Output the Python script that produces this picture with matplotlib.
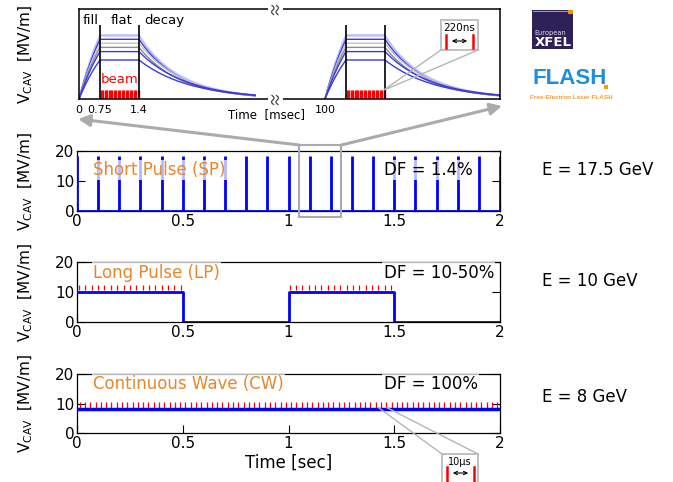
import numpy as np
import matplotlib
matplotlib.use('Agg')
import matplotlib.pyplot as plt
from matplotlib.patches import Rectangle, FancyArrowPatch, ConnectionPatch
from matplotlib.lines import Line2D

W, H = 673, 482
fig = plt.figure(figsize=(W / 100, H / 100), dpi=100)


def fpx(x, y):
    return (x / W, 1 - y / H)


def ax_rect(x0, y0, x1, y1):
    return [x0 / W, 1 - y1 / H, (x1 - x0) / W, (y1 - y0) / H]

# ---------------- data ----------------
# top schematic (RF pulse: fill / flat / decay)
pulse_starts_ms = [0.0, 100.0]
fill_end_ms = 0.75
flat_end_ms = 1.4
decay_len_ms = 3.6
pulse_levels = [21.3, 21.0, 19.9, 18.6, 17.2, 15.8, 13.0]
pulse_colors = ['#a8a8ff', '#c0c0ff', '#3a3ae0', '#c4c4c4', '#8c8c8c', '#3a3ae0', '#3a3ae0']
decay_taus = [1.2, 1.3, 1.25, 1.35, 1.3, 1.45, 1.55]
beam_level = 3.0
bunch_spacing_ms = 0.022
top_ticks = [0, 0.75, 1.4, 100]
top_ticklabels = ['0', '0.75', '1.4', '100']

time_ticks = [0, 0.5, 1, 1.5, 2]
time_ticklabels = ['0', '0.5', '1', '1.5', '2']
v_ticks = [0, 10, 20]

# short pulse
sp_pulse_times = [0.0, 0.1, 0.2, 0.3, 0.4, 0.5, 0.6, 0.7, 0.8, 0.9, 1.0,
                  1.1, 1.2, 1.3, 1.4, 1.5, 1.6, 1.7, 1.8, 1.9, 2.0]
sp_gradient = 18.3

# long pulse
lp_t = [0.0, 0.5, 0.5, 1.0, 1.0, 1.5, 1.5, 2.0]
lp_v = [10, 10, 0, 0, 10, 10, 0, 0]
lp_pulse_windows = [(0.01, 0.49), (1.005, 1.495)]
lp_bunch_spacing = 0.03

# continuous wave
cw_gradient = 8
cw_first_bunch = 0.0125
cw_bunch_spacing = 0.025
cw_n_bunches = 80

modes = ['Short Pulse (SP)', 'Long Pulse (LP)', 'Continuous Wave (CW)']
duty = ['DF = 1.4%', 'DF = 10-50%', 'DF = 100%']
energies = ['E = 17.5 GeV', 'E = 10 GeV', 'E = 8 GeV']

BLUE = '#0000ff'
ORANGE = '#e8862a'
GREY = '#ababab'
ylab = r'$\mathregular{V_{CAV}}$  [MV/m]'

# ---------------- top schematic axes ----------------
T_KNOTS = [0.0, 0.75, 1.4, 5.0, 100.0, 100.75, 101.4, 105.0]
P_KNOTS = [79, 100, 139, 255, 325, 346, 385, 500]


def fwd(t):
    return np.interp(t, T_KNOTS, P_KNOTS)


def inv(p):
    return np.interp(p, P_KNOTS, T_KNOTS)

axt = fig.add_axes(ax_rect(79, 9, 500, 99))
axt.set_xscale('function', functions=(fwd, inv))
axt.set_xlim(0, 105)
axt.set_ylim(0, 30)
for t0 in pulse_starts_ms:
    for lev, col, tau in zip(pulse_levels, pulse_colors, decay_taus):
        tf = np.linspace(0, fill_end_ms, 40)
        vf = lev * (1 - np.exp(-tf / 1.3)) / (1 - np.exp(-fill_end_ms / 1.3))
        td = np.linspace(0, decay_len_ms, 90)
        vd = lev * np.exp(-td / tau)
        tt = np.concatenate([t0 + tf, [t0 + flat_end_ms], t0 + flat_end_ms + td])
        vv = np.concatenate([vf, [lev], vd])
        axt.plot(tt, vv, color=col, lw=1.0)
    bt = np.arange(t0 + fill_end_ms + 0.01, t0 + flat_end_ms, bunch_spacing_ms)
    axt.vlines(bt, 0, beam_level, color='red', lw=1.0)
    axt.vlines([t0 + fill_end_ms, t0 + flat_end_ms], 0, 24.7, color='black', lw=1.2)
axt.text(1.075, 6.5, 'beam', color='red', fontsize=9.5, ha='center', va='center')
axt.text(0.12, 26, 'fill', fontsize=9.5, va='center')
axt.text(0.92, 26, 'flat', fontsize=9.5, va='center')
axt.text(1.55, 26, 'decay', fontsize=9.5, va='center')
axt.set_xticks(top_ticks, top_ticklabels)
axt.set_yticks([])
axt.tick_params(axis='x', length=0, labelsize=8, pad=4)
for s in axt.spines.values():
    s.set_linewidth(1.1)
axt.set_ylabel(ylab, fontsize=11)
axt.yaxis.set_label_coords((35 - 79) / 421, 0.5)

# axis break marks
for yc in (10, 100):
    fig.patches.append(Rectangle(fpx(268, yc + 2), 15 / W, 4 / H, transform=fig.transFigure,
                                 fc='white', ec='none', zorder=8))
    s = np.linspace(-1, 1, 30)
    for dx in (-2.2, 2.2):
        xs = 275 + dx + 1.6 * np.sin(np.pi * s) * -1 + 0.8 * s
        ys = yc + 4.5 * s
        fig.lines.append(Line2D(xs / W, 1 - ys / H, transform=fig.transFigure,
                                color='#444444', lw=0.9, zorder=9))
fig.text(*fpx(267, 115), 'Time  [msec]', fontsize=8.5, ha='center', va='center')

# ---------------- three mode panels ----------------
rects = [(77, 151, 500, 211), (77, 262, 500, 322), (77, 374, 500, 433)]
text_y = [13.7, 16.4, 16.6]
axes = []
for i, r in enumerate(rects):
    ax = fig.add_axes(ax_rect(*r))
    ax.set_xlim(0, 2)
    ax.set_ylim(0, 20)
    ax.set_xticks(time_ticks, time_ticklabels)
    ax.set_yticks(v_ticks)
    ax.tick_params(direction='in', length=5.5, width=0.8, right=True, top=False,
                   labelsize=11, pad=2)
    for s in ax.spines.values():
        s.set_linewidth(0.9)
    ax.set_ylabel(ylab, fontsize=11)
    ax.yaxis.set_label_coords((35 - 77) / 423, 0.5)
    ax.text(0.075, text_y[i], modes[i], color=ORANGE, fontsize=12, va='center',
            zorder=5, bbox=dict(fc='white', ec='none', alpha=0.72, pad=1))
    ax.text(1.45, text_y[i], duty[i], color='black', fontsize=12, va='center',
            zorder=5, bbox=dict(fc='white', ec='none', alpha=0.72, pad=1))
    fig.text(*fpx(542, (r[1] + r[3]) / 2 - 11 + (5 if i == 2 else 0)), energies[i],
             fontsize=12, va='center')
    axes.append(ax)

ax_sp, ax_lp, ax_cw = axes
ax_sp.vlines(sp_pulse_times, 0, sp_gradient, color=BLUE, lw=2, zorder=3)
ax_sp.axhline(0, color=BLUE, lw=2, zorder=3)

ax_lp.plot(lp_t, lp_v, color=BLUE, lw=2, zorder=3)
for a, b in lp_pulse_windows:
    bt = np.arange(a, b + 1e-6, lp_bunch_spacing)
    ax_lp.vlines(bt, 10.6, 12.3, color='red', lw=0.9, zorder=2)

cw_t = cw_first_bunch + cw_bunch_spacing * np.arange(cw_n_bunches)
ax_cw.vlines(cw_t, 8.5, 10.5, color='red', lw=0.9, zorder=2)
ax_cw.axhline(cw_gradient, color=BLUE, lw=2.5, zorder=3)
ax_cw.set_xlabel('Time [sec]', fontsize=12, labelpad=2)

# zoom box on SP
ax_sp.add_patch(Rectangle((1.05, -2), 0.2, 24, fill=False, ec=GREY, lw=1.5,
                          clip_on=False, zorder=6))
for (xs, ys), tip in [((1.05, 22), (78, 119)), ((1.25, 22), (502, 106))]:
    p0 = fig.transFigure.inverted().transform(ax_sp.transData.transform((xs, ys)))
    arr = FancyArrowPatch(p0, fpx(*tip), transform=fig.transFigure,
                          arrowstyle='-|>,head_length=7,head_width=3.5',
                          color=GREY, lw=2.2, shrinkA=0, shrinkB=0, zorder=10)
    fig.patches.append(arr)

# 220 ns inset
fig.patches.append(Rectangle(fpx(441, 50), 37 / W, 30 / H, transform=fig.transFigure,
                             fc='white', ec='#b5b5b5', lw=1.2, zorder=12))
for cx, (tx, ty) in [((441, 50), (101.38, 3.0)), ((478, 50), (101.42, 3.2))]:
    cp = ConnectionPatch(xyA=fpx(*cx), coordsA=fig.transFigure, xyB=(tx, ty),
                         coordsB=axt.transData, color='#b5b5b5', lw=1.0, zorder=11)
    fig.add_artist(cp)
fig.text(*fpx(459.5, 28), '220ns', fontsize=7.5, ha='center', va='center', zorder=13)
for x in (446, 473):
    fig.lines.append(Line2D([x / W, x / W], [1 - 35 / H, 1 - 48 / H],
                            transform=fig.transFigure, color='red', lw=1.8, zorder=13))
fig.patches.append(FancyArrowPatch(fpx(449, 41), fpx(470, 41), transform=fig.transFigure,
                                   arrowstyle='<->,head_length=2.5,head_width=1.2',
                                   color='black', lw=0.8, zorder=13))

# 10 us inset
fig.patches.append(Rectangle(fpx(442, 490), 36 / W, 36 / H, transform=fig.transFigure,
                             fc='white', ec='#b5b5b5', lw=1.2, zorder=12))
for cx, (tx, ty) in [((442, 454), (1.425, 8.6)), ((478, 454), (1.465, 8.6))]:
    cp = ConnectionPatch(xyA=fpx(*cx), coordsA=fig.transFigure, xyB=(tx, ty),
                         coordsB=ax_cw.transData, color='#b5b5b5', lw=1.0, zorder=11)
    fig.add_artist(cp)
fig.text(*fpx(460, 462), '10\u03bcs', fontsize=7, ha='center', va='center', zorder=13)
for x in (447, 474):
    fig.lines.append(Line2D([x / W, x / W], [1 - 467 / H, 1 - 484 / H],
                            transform=fig.transFigure, color='red', lw=1.8, zorder=13))
fig.patches.append(FancyArrowPatch(fpx(450, 473), fpx(471, 473), transform=fig.transFigure,
                                   arrowstyle='<->,head_length=2.5,head_width=1.2',
                                   color='black', lw=0.8, zorder=13))

# ---------------- logos ----------------
fig.patches.append(Rectangle(fpx(532, 49), 41 / W, 39 / H, transform=fig.transFigure,
                             fc='#2d2158', ec='none', zorder=5))
fig.patches.append(Rectangle(fpx(568, 14), 5 / W, 4 / H, transform=fig.transFigure,
                             fc='#f39200', ec='none', zorder=6))
fig.lines.append(Line2D([533 / W, 567 / W], [1 - 11 / H, 1 - 11 / H], transform=fig.transFigure,
                        color='#b8b4c8', lw=0.6, zorder=6))
fig.text(*fpx(550.5, 32.5), 'European', fontsize=4.8, color='#e0dde8', ha='center',
         va='center', zorder=7)
fig.text(*fpx(553.5, 42), 'XFEL', fontsize=9.5, fontweight='bold', color='white',
         ha='center', va='center', zorder=7)
fig.text(*fpx(533, 79), 'FLASH', fontsize=16, fontweight='bold', family='Liberation Sans',
         color='#1e8fe0', ha='left', va='center')
fig.patches.append(Rectangle(fpx(604, 89), 4 / W, 4 / H, transform=fig.transFigure,
                             fc='#f5a000', ec='none'))
fig.text(*fpx(571, 97.5), 'Free-Electron Laser FLASH', fontsize=4.6, fontweight='bold',
         family='Liberation Sans', color='#f0a030', ha='center', va='center')

fig.savefig('out.png', dpi=100)
